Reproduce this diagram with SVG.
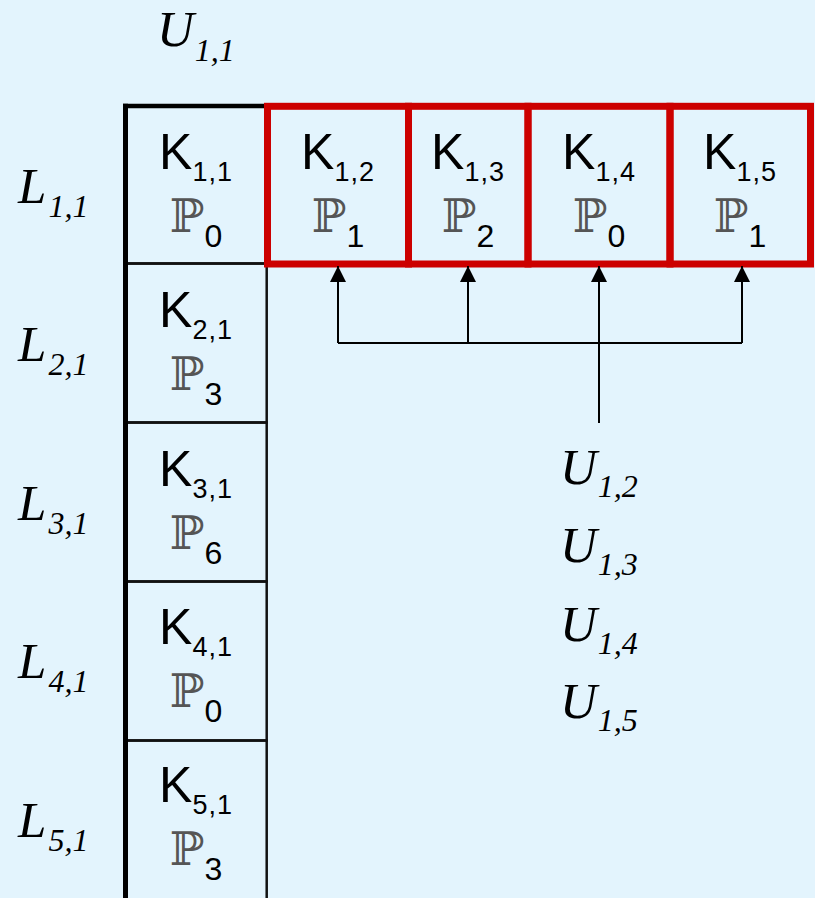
<svg xmlns="http://www.w3.org/2000/svg" width="815" height="898" viewBox="0 0 815 898">
<defs>
<style>
.k{font-family:"Liberation Sans",Arial,sans-serif;font-size:50px;fill:#000;text-anchor:middle}
.ks{font-size:27px;letter-spacing:1px}
.p{font-family:"DejaVu Serif","DejaVu Sans",serif;font-size:46px;fill:#555;text-anchor:middle}
.ps{font-family:"Liberation Sans",Arial,sans-serif;font-size:32px;fill:#000}
.m{font-family:"Liberation Serif","Times New Roman",serif;font-style:italic;font-size:51px;fill:#000}
.ms{font-size:32px}
.bc{fill:none;stroke:#111;stroke-width:2.5}
.rc{fill:none;stroke:#cc0000;stroke-width:7}
.ln{fill:none;stroke:#000;stroke-width:2}
</style>
<marker id="ah" markerUnits="userSpaceOnUse" markerWidth="16" markerHeight="16" refX="16" refY="8" orient="auto" viewBox="0 0 16 16">
<path d="M0,0 L16,8 L0,16 z" fill="#000"/>
</marker>
</defs>
<rect x="0" y="0" width="815" height="898" fill="#e3f4fd"/>

<g id="U11"><text class="m" x="157" y="46">U<tspan class="ms" dy="15" dx="1">1,1</tspan></text></g>
<g id="L11"><text class="m" x="18" y="203">L<tspan class="ms" dy="14" dx="2">1,1</tspan></text></g>
<g id="L21"><text class="m" x="18" y="361">L<tspan class="ms" dy="14" dx="2">2,1</tspan></text></g>
<g id="L31"><text class="m" x="18" y="520">L<tspan class="ms" dy="14" dx="2">3,1</tspan></text></g>
<g id="L41"><text class="m" x="18" y="678">L<tspan class="ms" dy="14" dx="2">4,1</tspan></text></g>
<g id="L51"><text class="m" x="18" y="837">L<tspan class="ms" dy="14" dx="2">5,1</tspan></text></g>

<g id="K11"><rect class="bc" x="125.5" y="106" width="141.2" height="157.5"/>
<text class="k" x="196" y="169">K<tspan class="ks" dy="12">1,1</tspan></text>
<text class="p" x="196" y="232">ℙ<tspan class="ps" dy="15">0</tspan></text></g>
<g id="K21"><rect class="bc" x="125.5" y="263.5" width="141.2" height="159"/>
<text class="k" x="196" y="327.3">K<tspan class="ks" dy="12">2,1</tspan></text>
<text class="p" x="196" y="390.3">ℙ<tspan class="ps" dy="15">3</tspan></text></g>
<g id="K31"><rect class="bc" x="125.5" y="422.5" width="141.2" height="159"/>
<text class="k" x="196" y="485.6">K<tspan class="ks" dy="12">3,1</tspan></text>
<text class="p" x="196" y="548.6">ℙ<tspan class="ps" dy="15">6</tspan></text></g>
<g id="K41"><rect class="bc" x="125.5" y="581.5" width="141.2" height="159"/>
<text class="k" x="196" y="643.9">K<tspan class="ks" dy="12">4,1</tspan></text>
<text class="p" x="196" y="706.9">ℙ<tspan class="ps" dy="15">0</tspan></text></g>
<g id="K51"><rect class="bc" x="125.5" y="740.5" width="141.2" height="159"/>
<text class="k" x="196" y="802.2">K<tspan class="ks" dy="12">5,1</tspan></text>
<text class="p" x="196" y="865.2">ℙ<tspan class="ps" dy="15">3</tspan></text></g>

<g id="column-edge">
<line x1="125.5" y1="103.8" x2="125.5" y2="898" stroke="#000" stroke-width="5"/>
<line x1="123" y1="106" x2="267" y2="106" stroke="#000" stroke-width="4.5"/>
</g>

<g id="K12"><rect class="rc" x="267.5" y="106.3" width="141" height="157.7"/>
<text class="k" x="338" y="169">K<tspan class="ks" dy="12">1,2</tspan></text>
<text class="p" x="338" y="232">ℙ<tspan class="ps" dy="15">1</tspan></text></g>
<g id="K13"><rect class="rc" x="408.5" y="106.3" width="119.5" height="157.7"/>
<text class="k" x="468" y="169">K<tspan class="ks" dy="12">1,3</tspan></text>
<text class="p" x="468" y="232">ℙ<tspan class="ps" dy="15">2</tspan></text></g>
<g id="K14"><rect class="rc" x="528" y="106.3" width="142" height="157.7"/>
<text class="k" x="599" y="169">K<tspan class="ks" dy="12">1,4</tspan></text>
<text class="p" x="599" y="232">ℙ<tspan class="ps" dy="15">0</tspan></text></g>
<g id="K15"><rect class="rc" x="670" y="106.3" width="140.5" height="157.7"/>
<text class="k" x="740" y="169">K<tspan class="ks" dy="12">1,5</tspan></text>
<text class="p" x="740" y="232">ℙ<tspan class="ps" dy="15">1</tspan></text></g>

<g id="connectors">
<path class="ln" d="M338,343 H742"/>
<path class="ln" d="M338,343 V266" marker-end="url(#ah)"/>
<path class="ln" d="M468,343 V266" marker-end="url(#ah)"/>
<path class="ln" d="M742,343 V266" marker-end="url(#ah)"/>
<path class="ln" d="M599,423 V266" marker-end="url(#ah)"/>
</g>

<g id="U-list">
<text class="m" x="560" y="484">U<tspan class="ms" dy="13" dx="1">1,2</tspan></text>
<text class="m" x="560" y="562">U<tspan class="ms" dy="13" dx="1">1,3</tspan></text>
<text class="m" x="560" y="641">U<tspan class="ms" dy="13" dx="1">1,4</tspan></text>
<text class="m" x="560" y="718">U<tspan class="ms" dy="13" dx="1">1,5</tspan></text>
</g>
</svg>
